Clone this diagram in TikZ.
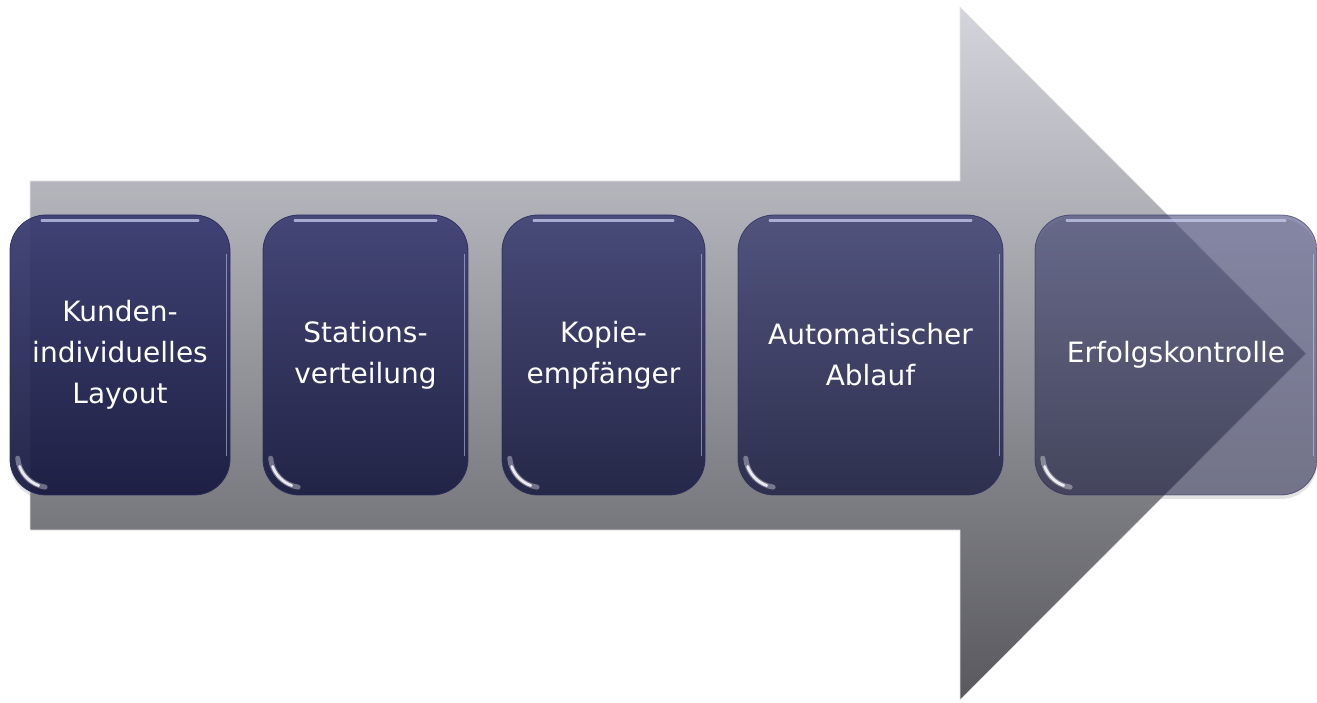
\documentclass[tikz,border=0pt]{standalone}
\usepackage{fontspec}
\newfontfamily\boxfont{DejaVu Sans}
\usetikzlibrary{shadows}
\definecolor{navytop}{RGB}{55,58,112}
\definecolor{navybot}{RGB}{22,24,62}
\definecolor{navyedge}{RGB}{40,43,92}
\definecolor{arrtop}{RGB}{212,212,220}
\definecolor{arrbot}{RGB}{88,88,94}
\definecolor{glosscol}{RGB}{200,205,240}
\tikzset{
  procbox/.style={rounded corners=36pt, top color=navytop, bottom color=navybot,
    draw=navyedge, line width=0.8pt, minimum height=280pt, text=white,
    align=center, font=\boxfont\fontsize{28}{41}\selectfont, inner sep=0pt,
    text opacity=1,
    drop shadow={shadow xshift=0pt, shadow yshift=-4pt, opacity=0.22}},
  glossline/.style={draw=glosscol, line cap=round, line width=2.2pt, opacity=0.75},
  sideline/.style={draw=glosscol, line cap=round, line width=1.6pt, opacity=0.55},
  crescentsoft/.style={draw=white, line cap=round, line width=5pt, opacity=0.35},
  crescent/.style={draw=white, line cap=round, line width=2.8pt, opacity=0.85},
  arrowbody/.style={top color=arrtop, bottom color=arrbot, draw=white!80!gray, line width=0.6pt}
}
\begin{document}
\begin{tikzpicture}[x=1pt,y=1pt]
\useasboundingbox (0,0) rectangle (1317,702);
% big arrow
\shade[arrowbody] (30,521) -- (960,521) -- (960,695) -- (1306,348.5) -- (960,2) -- (960,172) -- (30,172) -- cycle;
% process boxes
\node[procbox, minimum width=220pt, fill opacity=0.92, draw opacity=0.92] (b1) at (120,347) {Kunden-\\individuelles\\Layout};
\node[procbox, minimum width=205pt, fill opacity=0.88, draw opacity=0.88] (b2) at (365.5,347) {Stations-\\verteilung};
\node[procbox, minimum width=203pt, fill opacity=0.84, draw opacity=0.84] (b3) at (603.5,347) {Kopie-\\empfänger};
\node[procbox, minimum width=265pt, fill opacity=0.76, draw opacity=0.76] (b4) at (870.5,347) {Automatischer\\Ablauf};
\node[procbox, minimum width=282pt, fill opacity=0.55, draw opacity=0.6] (b5) at (1176,347) {Erfolgskontrolle};
% gloss highlights
\foreach \b in {b1,b2,b3,b4,b5}{
  \draw[glossline] ([xshift=32pt,yshift=-6pt]\b.north west) -- ([xshift=-32pt,yshift=-6pt]\b.north east);
  \draw[sideline] ([xshift=-4pt,yshift=-40pt]\b.north east) -- ([xshift=-4pt,yshift=40pt]\b.south east);
  \draw[crescentsoft] ([xshift=8.1pt,yshift=37.2pt]\b.south west) arc[start angle=185, end angle=262, radius=32pt];
  \draw[crescent] ([xshift=10pt,yshift=29pt]\b.south west) arc[start angle=200, end angle=250, radius=32pt];
}
\end{tikzpicture}
\end{document}
